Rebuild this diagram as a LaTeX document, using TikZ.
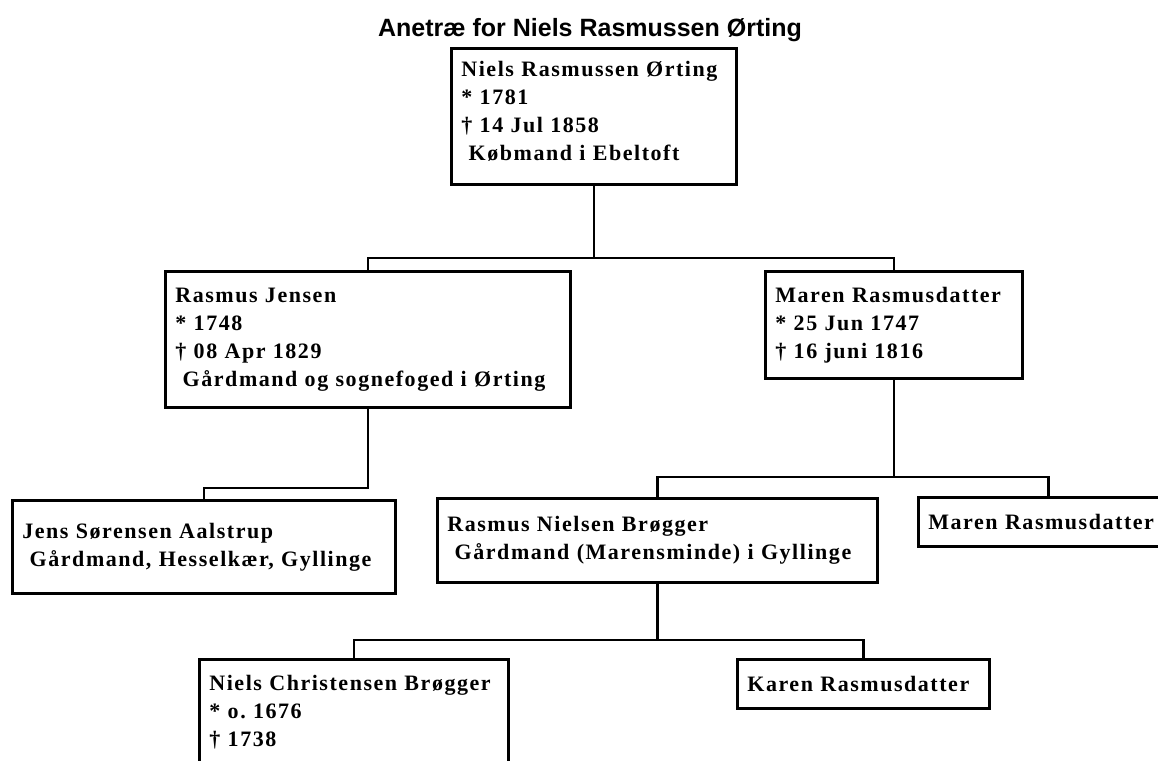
\documentclass[tikz,border=0pt]{standalone}
\usepackage{fontspec}
\setmainfont{Liberation Serif}
\newfontfamily\titlefont{Liberation Sans}
\usetikzlibrary{positioning}
\frenchspacing

\begin{document}
\begin{tikzpicture}[x=1pt, y=-1pt,
    person/.style={draw, line width=2.8pt, anchor=north west, align=left,
      inner xsep=10pt, inner ysep=0pt,
      font=\fontsize{22}{28}\selectfont\bfseries\addfontfeature{LetterSpace=7}},
    link/.style={line width=2.4pt}]
    \useasboundingbox (0,0) rectangle (1158,760);
    % Title
    \node[font=\titlefont\fontsize{25}{30}\selectfont\bfseries] (title) at (590,30) {Anetræ for Niels Rasmussen Ørting};
    % Generation 1
    \node[person, text width=265pt, minimum height=136pt] (niels) at (450,47)
      {Niels Rasmussen Ørting\\{*} 1781\\† 14 Jul 1858\\~Købmand i Ebeltoft\\[-16pt]\mbox{}};
    % Generation 2
    \node[person, text width=385pt, minimum height=136pt] (rasmus) at (164,270)
      {Rasmus Jensen\\{*} 1748\\† 08 Apr 1829\\~Gårdmand og sognefoged i Ørting};
    \node[person, text width=237pt, minimum height=107pt] (maren) at (764,270)
      {Maren Rasmusdatter\\{*} 25 Jun 1747\\† 16 juni 1816};
    % Generation 3
    \node[person, text width=363pt, minimum height=93pt] (jens) at (11,499)
      {Jens Sørensen Aalstrup\\~Gårdmand, Hesselkær, Gyllinge};
    \node[person, text width=420pt, minimum height=84pt] (brogger) at (436,497)
      {Rasmus Nielsen Brøgger\\~Gårdmand (Marensminde) i Gyllinge};
    \node[person, text width=240pt, minimum height=49pt] (maren2) at (917,496)
      {Maren Rasmusdatter};
    % Generation 4
    \node[person, text width=289pt, minimum height=140pt] (christen) at (198,658)
      {Niels Christensen Brøgger\\{*} o. 1676\\† 1738\\\strut};
    \node[person, text width=232pt, minimum height=49pt] (karen) at (736,658)
      {Karen Rasmusdatter};
    % Lines
    \draw[link] (niels.south) -- ++(0,72) coordinate (b1);
    \draw[link] (rasmus.north) |- (b1) -| (maren.north);
    \draw[link] (rasmus.south) -- ++(0,79) -| (jens.north);
    \draw[link] (maren.south) -- ++(0,97) coordinate (b2);
    \draw[link] (brogger.north) |- (b2) -| (maren2.north);
    \draw[link] (brogger.south) -- ++(0,56) coordinate (b3);
    \draw[link] (christen.north) |- (b3) -| (karen.north);
\end{tikzpicture}
\end{document}
